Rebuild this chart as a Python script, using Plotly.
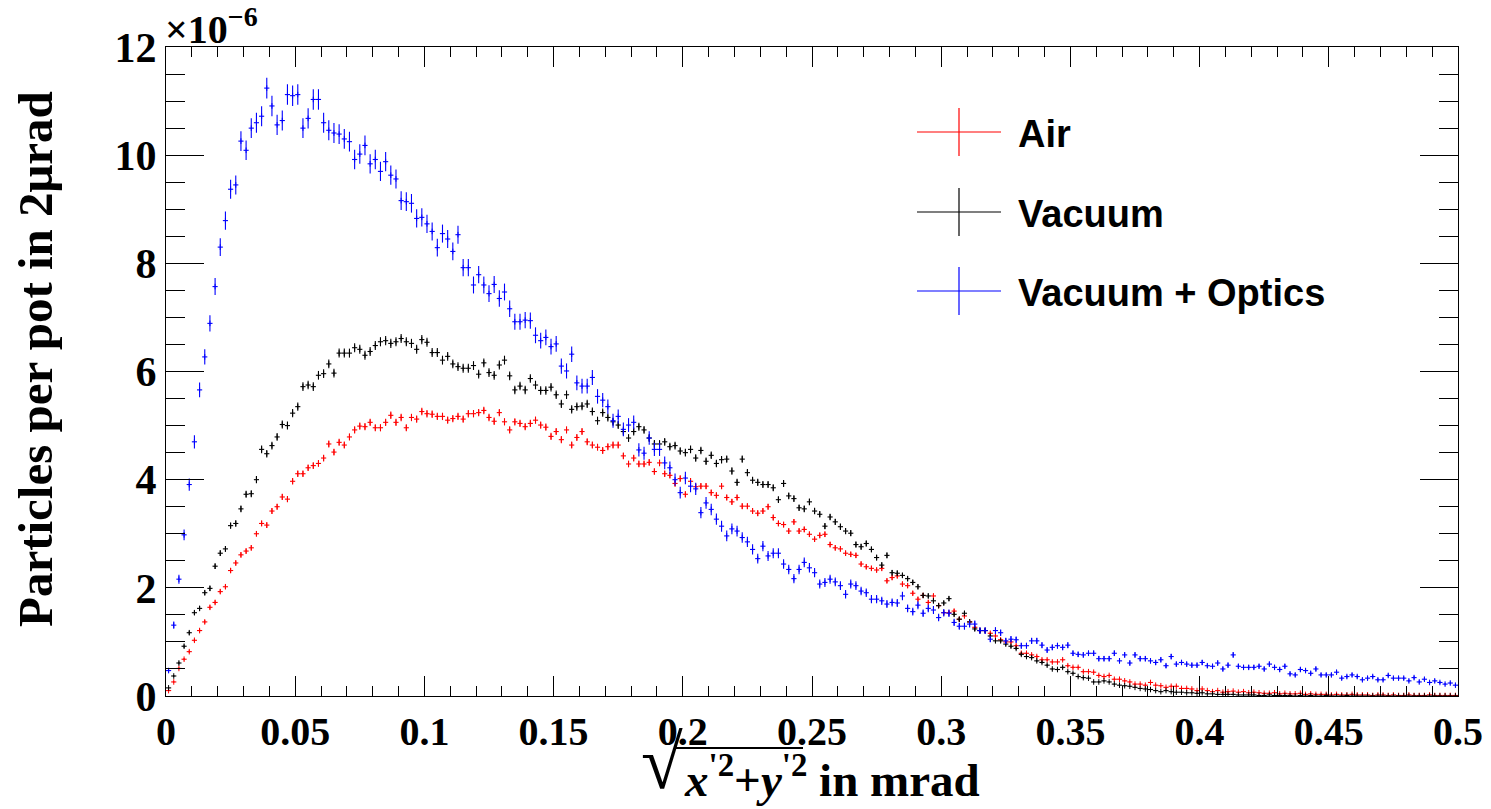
import numpy as np
import plotly.graph_objects as go

# ---------------- data (250 bins of 2 urad) ----------------
bin_edges_range = (0.0, 0.5)
n_bins = 250

air = [
    0.10, 0.26, 0.51, 0.68, 0.82, 1.03, 1.21, 1.37, 1.64, 1.73,
    1.93, 2.02, 2.32, 2.46, 2.61, 2.68, 2.74, 3.00, 3.19, 3.16,
    3.42, 3.50, 3.68, 3.64, 3.97, 4.11, 4.11, 4.22, 4.26, 4.30,
    4.40, 4.66,
    4.51, 4.69, 4.64, 4.79, 4.92, 4.99, 4.98, 5.06, 4.96, 4.96,
    5.06, 5.19, 5.06, 5.15, 4.96, 5.15, 5.12, 5.26, 5.22, 5.21,
    5.17, 5.17, 5.10, 5.13, 5.17, 5.12, 5.22, 5.22, 5.24, 5.28,
    5.15, 5.08,
    5.24, 5.07, 4.92, 5.07, 5.04, 4.98, 5.04, 5.10, 5.01, 4.97,
    4.80, 4.89, 4.74, 4.92, 4.64, 4.78, 4.89, 4.70, 4.64, 4.60,
    4.54, 4.61, 4.64, 4.64, 4.44, 4.29, 4.40, 4.29, 4.29, 4.32,
    4.15, 4.31, 4.11,
    4.08, 3.93, 4.02, 3.73, 3.97, 3.87, 3.88, 3.88, 3.76, 3.71,
    3.88, 3.67, 3.59, 3.67, 3.51, 3.51, 3.42, 3.38, 3.42, 3.50,
    3.30, 3.19, 3.17, 3.05, 3.22, 3.05, 3.08, 2.99, 2.90, 2.97,
    2.99, 2.80, 2.74,
    2.72, 2.64, 2.62, 2.60, 2.44, 2.39, 2.36, 2.33, 2.36, 2.13,
    2.19, 2.22, 2.07, 2.04, 1.90, 1.79, 1.86, 1.73, 1.85, 1.67,
    1.54, 1.54, 1.57, 1.42, 1.48, 1.37, 1.27, 1.21, 1.21, 1.16,
    1.11, 1.04, 1.00,
    1.00, 0.93, 0.79, 0.79, 0.76, 0.73, 0.67, 0.67, 0.63, 0.63,
    0.67, 0.56, 0.53, 0.53, 0.45, 0.45, 0.44, 0.38, 0.36, 0.38,
    0.31, 0.31, 0.28, 0.26, 0.22, 0.22, 0.20, 0.25, 0.20, 0.19,
    0.16, 0.18, 0.18, 0.14, 0.14, 0.13, 0.10, 0.13, 0.10, 0.08,
    0.10, 0.07,
    0.08, 0.09, 0.07, 0.08, 0.06, 0.07, 0.06, 0.05, 0.05, 0.06,
    0.04, 0.05, 0.04, 0.04, 0.05, 0.03, 0.04, 0.03, 0.03, 0.03,
    0.02, 0.03, 0.02, 0.02, 0.03, 0.02, 0.02, 0.02, 0.01, 0.02,
    0.02, 0.01, 0.02, 0.01, 0.01, 0.02, 0.01, 0.01, 0.01, 0.02,
    0.01, 0.01, 0.01, 0.01, 0.01,
]

vacuum = [
    0.15, 0.37, 0.61, 0.92, 1.17, 1.54, 1.62, 1.91, 1.99, 2.40,
    2.64, 2.72, 3.15, 3.19, 3.46, 3.73, 3.74, 4.00, 4.56, 4.48,
    4.63, 4.79, 5.02, 5.00, 5.23, 5.35, 5.72, 5.75, 5.72, 5.93,
    5.96, 6.14,
    5.97, 6.34, 6.34, 6.34, 6.44, 6.41, 6.30, 6.37, 6.48, 6.55,
    6.57, 6.52, 6.55, 6.61, 6.55, 6.52, 6.41, 6.59, 6.54, 6.35,
    6.35, 6.21, 6.28, 6.14, 6.09, 6.06, 6.06, 6.11, 5.95, 6.16,
    5.98, 5.93,
    6.12, 6.21, 5.92, 5.66, 5.73, 5.66, 5.87, 5.75, 5.65, 5.65,
    5.71, 5.57, 5.40, 5.57, 5.30, 5.35, 5.36, 5.40, 5.26, 5.09,
    5.24, 5.15, 5.07, 5.01, 4.89, 4.77, 4.89, 4.98, 4.92, 4.77,
    4.66, 4.66, 4.70,
    4.61, 4.63, 4.53, 4.50, 4.56, 4.40, 4.54, 4.34, 4.45, 4.30,
    4.37, 4.38, 4.16, 3.95, 4.38, 4.13, 3.99, 3.95, 3.91, 3.91,
    3.85, 3.63, 3.93, 3.70, 3.65, 3.48, 3.46, 3.59, 3.42, 3.36,
    3.14, 3.31, 3.22,
    3.13, 3.05, 3.01, 2.80, 2.76, 2.82, 2.71, 2.56, 2.42, 2.60,
    2.28, 2.27, 2.23, 2.17, 2.10, 2.02, 1.86, 1.85, 1.76, 1.67,
    1.72, 1.80, 1.51, 1.42, 1.53, 1.37, 1.24, 1.21, 1.21, 1.11,
    1.02, 1.02, 0.96,
    0.92, 0.88, 0.77, 0.73, 0.71, 0.65, 0.62, 0.57, 0.50, 0.49,
    0.53, 0.45, 0.42, 0.36, 0.34, 0.33, 0.26, 0.26, 0.28, 0.26,
    0.22, 0.20, 0.19, 0.18, 0.16, 0.14, 0.13, 0.12, 0.10, 0.08,
    0.10, 0.08, 0.07, 0.07, 0.06, 0.06, 0.05, 0.06, 0.04, 0.04,
    0.03, 0.03,
    0.03, 0.03, 0.02, 0.02, 0.02, 0.02, 0.01, 0.01, 0.02, 0.01,
    0.01, 0.01, 0.01, 0.00, 0.01, 0.00, 0.01, 0.00, 0.00, 0.01,
    0.00, 0.00, 0.00, 0.01, 0.00, 0.00, 0.00, 0.00, 0.00, 0.00,
    0.00, 0.00, 0.00, 0.00, 0.00, 0.00, 0.00, 0.00, 0.00, 0.00,
    0.00, 0.00, 0.00, 0.00, 0.00,
]

vacuum_optics = [
    0.47, 1.31, 2.16, 2.98, 3.91, 4.70, 5.66, 6.27, 6.89, 7.57,
    8.30, 8.79, 9.37, 9.45, 10.26, 10.09, 10.50, 10.60, 10.72, 11.24,
    10.91, 10.56, 10.64, 11.12, 11.10, 11.12, 10.50, 10.68, 11.03, 11.03,
    10.60, 10.46,
    10.41, 10.39, 10.30, 10.25, 9.92, 10.02, 10.18, 9.84, 9.92, 9.70,
    9.88, 9.63, 9.56, 9.16, 9.14, 9.11, 8.83, 8.85, 8.73, 8.59,
    8.29, 8.55, 8.45, 8.22, 8.53, 7.92, 7.92, 7.60, 7.79, 7.60,
    7.44, 7.61,
    7.35, 7.47, 7.16, 6.92, 6.92, 6.95, 6.94, 6.67, 6.57, 6.63,
    6.46, 6.51, 6.10, 6.01, 6.32, 5.79, 5.73, 5.73, 5.89, 5.54,
    5.47, 5.35, 5.09, 5.17, 4.93, 5.01, 5.06, 4.55, 4.49, 4.77,
    4.56, 4.56, 4.31,
    4.22, 4.00, 3.76, 4.03, 3.88, 3.83, 3.39, 3.57, 3.45, 3.27,
    3.14, 2.96, 3.09, 3.05, 2.93, 2.85, 2.71, 2.54, 2.77, 2.59,
    2.64, 2.64, 2.44, 2.34, 2.17, 2.34, 2.47, 2.37, 2.28, 2.07,
    2.10, 2.16, 2.11,
    2.04, 1.88, 2.07, 2.04, 1.94, 1.91, 1.79, 1.79, 1.76, 1.70,
    1.73, 1.72, 1.85, 1.62, 1.56, 1.68, 1.53, 1.62, 1.59, 1.45,
    1.54, 1.53, 1.36, 1.29, 1.29, 1.33, 1.33, 1.21, 1.21, 1.05,
    1.21, 1.17, 1.02,
    1.05, 1.04, 0.93, 0.93, 1.02, 1.02, 0.94, 0.85, 0.90, 0.93,
    0.90, 0.94, 0.79, 0.77, 0.76, 0.79, 0.79, 0.69, 0.69, 0.69,
    0.79, 0.65, 0.76, 0.61, 0.76, 0.69, 0.69, 0.65, 0.62, 0.67,
    0.56, 0.73, 0.59, 0.62, 0.59, 0.57, 0.57, 0.62, 0.56, 0.55,
    0.61, 0.50,
    0.57, 0.76, 0.55, 0.53, 0.53, 0.53, 0.55, 0.50, 0.59, 0.53,
    0.49, 0.55, 0.41, 0.39, 0.49, 0.47, 0.42, 0.50, 0.39, 0.39,
    0.39, 0.44, 0.33, 0.36, 0.39, 0.36, 0.30, 0.33, 0.36, 0.30,
    0.30, 0.38, 0.33, 0.33, 0.33, 0.28, 0.34, 0.26, 0.31, 0.25,
    0.28, 0.25, 0.22, 0.24, 0.20,
]

series_names = ["Air", "Vacuum", "Vacuum + Optics"]
series_colors = ["#ff0000", "#000000", "#0000ff"]
# relative statistical error scale per series (error = k * sqrt(value))
stat_scale = [0.030, 0.033, 0.057]

x_tick_vals = [0, 0.05, 0.1, 0.15, 0.2, 0.25, 0.3, 0.35, 0.4, 0.45, 0.5]
x_tick_text = ["0", "0.05", "0.1", "0.15", "0.2", "0.25", "0.3", "0.35", "0.4", "0.45", "0.5"]
y_tick_vals = [0, 2, 4, 6, 8, 10, 12]

# ---------------- figure ----------------
edges = np.linspace(bin_edges_range[0], bin_edges_range[1], n_bins + 1)
centers = 0.5 * (edges[:-1] + edges[1:])
half_w = 0.5 * (edges[1] - edges[0])

# the page body has an 8px margin, so the figure is 8px smaller than the window
OFF = 8
W, H = 1491 - OFF, 809 - OFF
# plot area in window pixels: x 166..1458, y 47..696
ML, MT = 166 - OFF, 47 - OFF
MR = W - (1458 - OFF)
MB = H - (696 - OFF)
PW, PH = W - ML - MR, H - MT - MB


def px(sx):
    """window pixel x -> paper x"""
    return (sx - OFF - ML) / PW


def py(sy):
    """window pixel y -> paper y"""
    return (H - MB - (sy - OFF)) / PH


fig = go.Figure()
for vals, name, col, k in zip([air, vacuum, vacuum_optics], series_names, series_colors, stat_scale):
    v = np.array(vals)
    err = k * np.sqrt(v)
    fig.add_trace(go.Scatter(
        x=centers, y=v, mode="markers", name=name, showlegend=False,
        marker=dict(symbol="line-ns-open", size=4, color=col, line=dict(width=1, color=col)),
        error_x=dict(type="constant", value=half_w, width=0, thickness=1.1, color=col),
        error_y=dict(type="data", array=err, width=0, thickness=1.1, color=col),
        hoverinfo="x+y+name",
    ))

serif_b = dict(family="Liberation Serif, Times New Roman, serif", color="black", weight="bold")
sans_b = dict(family="Liberation Sans, Arial, Helvetica, sans-serif", color="black", weight="bold")

fig.update_layout(
    width=W, height=H,
    margin=dict(l=ML, r=MR, t=MT, b=MB, pad=0, autoexpand=False),
    paper_bgcolor="white", plot_bgcolor="white",
    xaxis=dict(
        range=[0, 0.5], tickvals=x_tick_vals, ticktext=x_tick_text, automargin=False,
        ticks="inside", ticklen=20, tickwidth=1, tickcolor="black",
        minor=dict(ticks="inside", ticklen=10, dtick=0.01, tick0=0, tickcolor="black", tickwidth=1),
        showline=True, linecolor="black", linewidth=1, mirror="ticks",
        showgrid=False, zeroline=False,
        tickfont=dict(size=40, **serif_b),
    ),
    yaxis=dict(
        range=[0, 12], tickvals=y_tick_vals, automargin=False,
        ticks="inside", ticklen=38, tickwidth=1, tickcolor="black",
        minor=dict(ticks="inside", ticklen=19, dtick=0.5, tick0=0, tickcolor="black", tickwidth=1),
        showline=True, linecolor="black", linewidth=1, mirror="ticks",
        showgrid=False, zeroline=False,
        tickfont=dict(size=42, **serif_b),
    ),
)

annotations = []
# exponent label
annotations.append(dict(
    text="×10<sup>−6</sup>", xref="paper", yref="paper", x=px(163), y=py(54),
    xanchor="left", yanchor="bottom", showarrow=False, font=dict(size=40, **serif_b),
))
# y title
annotations.append(dict(
    text="Particles per pot in 2μrad", xref="paper", yref="paper", x=px(35), y=py(359),
    xanchor="center", yanchor="middle", textangle=-90, showarrow=False,
    font=dict(size=49, **serif_b),
))
# x title: radical sign + radicand + unit
annotations.append(dict(
    text="√", xref="paper", yref="paper", x=px(662), y=py(762),
    xanchor="center", yanchor="middle", showarrow=False,
    font=dict(size=76, **serif_b),
))
annotations.append(dict(
    text="<i>x</i><sup>\'2</sup>+<i>y</i><sup>\'2</sup> in mrad",
    xref="paper", yref="paper", x=px(682), y=py(776),
    xanchor="left", yanchor="middle", showarrow=False,
    font=dict(size=47, **serif_b),
))

shapes = []
# overline of the square root
shapes.append(dict(type="line", xref="paper", yref="paper",
                   x0=px(676), x1=px(803), y0=py(748), y1=py(748),
                   line=dict(color="black", width=2)))

# custom legend (ROOT-style error-bar crosses)
legend_y = [132, 212, 291]
for name, col, ly in zip(series_names, series_colors, legend_y):
    shapes.append(dict(type="line", xref="paper", yref="paper",
                       x0=px(917), x1=px(1001), y0=py(ly), y1=py(ly),
                       line=dict(color=col, width=1.2)))
    shapes.append(dict(type="line", xref="paper", yref="paper",
                       x0=px(959), x1=px(959), y0=py(ly - 24), y1=py(ly + 24),
                       line=dict(color=col, width=1.2)))
    annotations.append(dict(
        text=name, xref="paper", yref="paper", x=px(1016), y=py(ly + 2),
        xanchor="left", yanchor="middle", showarrow=False,
        font=dict(size=38, **sans_b),
    ))

fig.update_layout(annotations=annotations, shapes=shapes)
fig.write_html("out.html")
